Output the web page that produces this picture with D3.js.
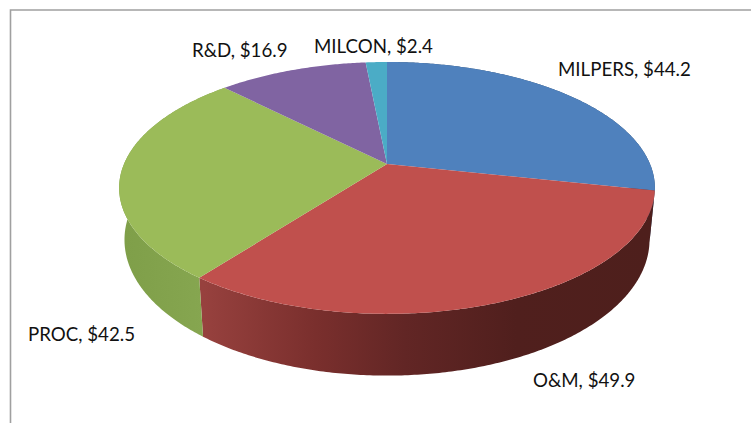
<!DOCTYPE html>
<html>
<head>
<meta charset="utf-8">
<script src="https://cdn.jsdelivr.net/npm/d3@7"></script>
<style>
  html, body { margin: 0; padding: 0; background: #fff; }
  svg { display: block; }
</style>
</head>
<body>
<div id="chart"></div>
<script>
// budget categories and values
const categories = ["MILPERS", "O&M", "PROC", "R&D", "MILCON"];
const values = [44.2, 49.9, 42.5, 16.9, 2.4];
const topColors = ["#4f81bd", "#c0504d", "#9bbb59", "#8064a2", "#4bacc6"];

const width = 751;
const height = 423;

// where each label starts, x and baseline
const labelX = [558, 533, 28, 192, 314];
const labelY = [76, 387, 341, 57, 53];

const svg = d3.select("#chart")
  .append("svg")
  .attr("width", width)
  .attr("height", height);

// chart frame, only top and left are in the picture
svg.append("path")
  .attr("d", d3.line()([[751, 10], [10.5, 10], [10.5, 423]]))
  .attr("fill", "none")
  .attr("stroke", "#a0a0a0")
  .attr("stroke-width", 1.6);

const color = d3.scaleOrdinal().domain(categories).range(topColors);

// slanted disc: a circle seen in perspective, so the apex sits above the ellipse centre
const apexX = 387, apexY = 164;
const radiusX = 263, radiusY = 121.4, tilt = -0.19;
const depth = 50, shrink = 0.98;

function project(angle, lower) {
  const u = Math.sin(angle), v = -Math.cos(angle);
  const w = 1 + tilt * v;
  const x = radiusX * u / w;
  const y = radiusY * v / w;
  return lower
    ? [apexX + x * shrink, apexY + y + depth / w]
    : [apexX + x, apexY + y];
}

function rim(a0, a1, lower) {
  const n = Math.max(2, Math.ceil((a1 - a0) / 0.01));
  return d3.range(n + 1).map(i => project(a0 + (a1 - a0) * i / n, lower));
}

const pie = d3.pie().sort(null).value((d, i) => values[i]);
const slices = pie(categories);
const line = d3.line();

// small quads between the two rims, so the wall also fills out to the silhouette
function wall(d) {
  const upper = rim(d.startAngle, d.endAngle, false);
  const lower = rim(d.startAngle, d.endAngle, true);
  return d3.pairs(d3.range(upper.length))
    .map(p => line([upper[p[0]], upper[p[1]], lower[p[1]], lower[p[0]]]) + "Z")
    .join("");
}

// side shading runs dark to the right, like the lit bevel in the original
const defs = svg.append("defs");
const sideStops = {
  "MILPERS": [[0, "#2c4a6e"], [1, "#2c4a6e"]],
  "O&M": [[0, "#4e1f1c"], [0.3, "#501f1d"], [0.55, "#622625"], [0.75, "#7a2f2d"], [1, "#97413e"]],
  "PROC": [[0, "#7f9f49"], [1, "#86a650"]]
};
const sideRange = { "MILPERS": [655, 640], "O&M": [650, 204], "PROC": [125, 204] };

Object.keys(sideStops).forEach((name, i) => {
  const g = defs.append("linearGradient")
    .attr("id", "side" + i)
    .attr("gradientUnits", "userSpaceOnUse")
    .attr("x1", sideRange[name][0]).attr("x2", sideRange[name][1])
    .attr("y1", 0).attr("y2", 0);
  sideStops[name].forEach(s => g.append("stop").attr("offset", s[0]).attr("stop-color", s[1]));
});

// outer wall, only the slices that face the viewer
svg.append("g")
  .selectAll("path")
  .data(slices.filter(d => sideStops[d.data]))
  .join("path")
  .attr("d", wall)
  .attr("fill", d => "url(#side" + Object.keys(sideStops).indexOf(d.data) + ")");

// top face
svg.append("g")
  .selectAll("path")
  .data(slices)
  .join("path")
  .attr("d", d => line(
    [[apexX, apexY]].concat(rim(d.startAngle, d.endAngle, false))
  ) + "Z")
  .attr("fill", d => color(d.data));

// data labels
svg.append("g")
  .selectAll("text")
  .data(categories)
  .join("text")
  .attr("x", (d, i) => labelX[i])
  .attr("y", (d, i) => labelY[i])
  .attr("font-family", "Lato, 'Open Sans', sans-serif")
  .attr("font-size", 18.7)
  .attr("fill", "#111")
  .text((d, i) => d + ", $" + values[i].toFixed(1));
</script>
</body>
</html>
